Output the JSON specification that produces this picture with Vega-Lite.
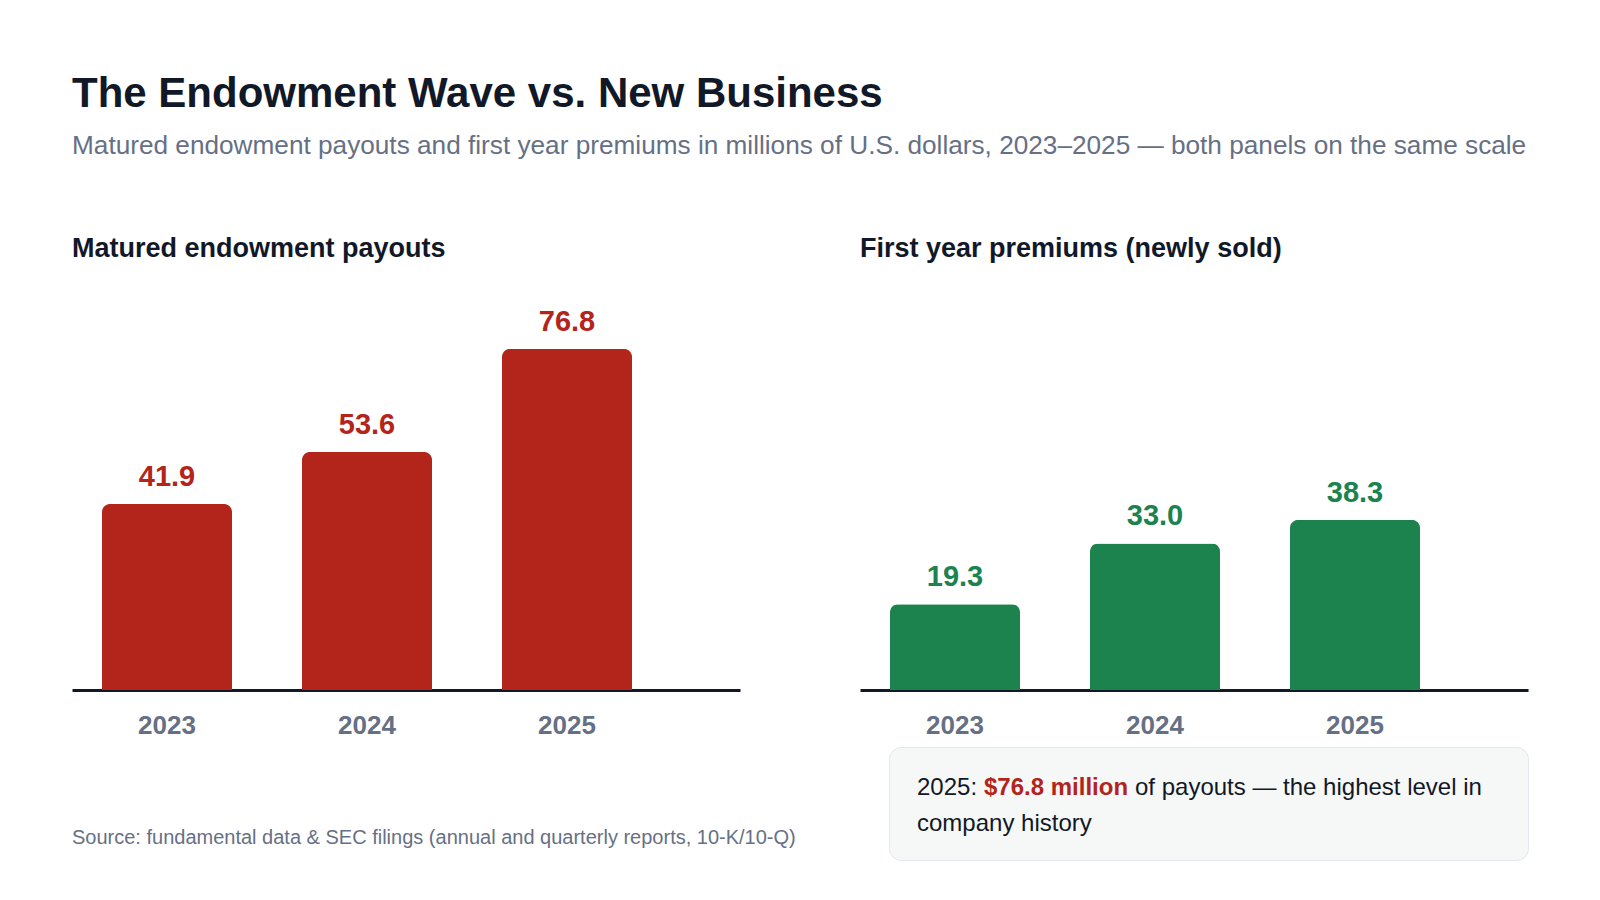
{
  "$schema": "https://vega.github.io/schema/vega-lite/v6.json",
  "padding": {"left": 72, "top": 72, "right": 0, "bottom": 0},
  "background": "white",
  "title": {
    "text": "The Endowment Wave vs. New Business",
    "subtitle": "Matured endowment payouts and first year premiums in millions of U.S. dollars, 2023–2025 — both panels on the same scale",
    "anchor": "start",
    "font": "Liberation Sans",
    "fontSize": 42,
    "fontWeight": "bold",
    "color": "#111827",
    "subtitleFont": "Liberation Sans",
    "subtitleFontSize": 26.2,
    "subtitleColor": "#667085",
    "subtitlePadding": 17,
    "offset": 75
  },
  "datasets": {
    "payouts": [
      {"year": "2023", "value": 41.9},
      {"year": "2024", "value": 53.6},
      {"year": "2025", "value": 76.8}
    ],
    "premiums": [
      {"year": "2023", "value": 19.3},
      {"year": "2024", "value": 33.0},
      {"year": "2025", "value": 38.3}
    ],
    "note": [
      {"part": "lead", "text": "2025:"},
      {"part": "highlight", "text": "$76.8 million"},
      {"part": "rest", "text": "of payouts — the highest level in"},
      {"part": "line2", "text": "company history"}
    ]
  },
  "vconcat": [
    {
      "hconcat": [
        {
          "width": 668,
          "height": 389,
          "title": {"text": "Matured endowment payouts", "anchor": "start", "fontSize": 27, "fontWeight": "bold", "color": "#111827", "offset": 38},
          "data": {"name": "payouts"},
          "encoding": {
            "x": {
              "field": "year",
              "type": "nominal",
              "scale": {"paddingInner": 0.35, "paddingOuter": 0.345, "align": 0.2174},
              "axis": {"title": null, "labelAngle": 0, "ticks": false, "domainColor": "#111827", "domainWidth": 3, "labelFontSize": 26, "labelFontWeight": "bold", "labelColor": "#667085", "labelPadding": 22}
            },
            "y": {"field": "value", "type": "quantitative", "scale": {"domain": [0, 87.6]}, "axis": null}
          },
          "layer": [
            {"mark": {"type": "bar", "color": "#b3241a", "cornerRadiusTopLeft": 8, "cornerRadiusTopRight": 8}},
            {
              "mark": {"type": "text", "baseline": "alphabetic", "dy": -18, "fontSize": 29, "fontWeight": "bold", "color": "#b3241a"},
              "encoding": {"text": {"field": "value", "type": "quantitative", "format": ".1f"}}
            }
          ]
        },
        {
          "width": 668,
          "height": 389,
          "title": {"text": "First year premiums (newly sold)", "anchor": "start", "fontSize": 27, "fontWeight": "bold", "color": "#111827", "offset": 38},
          "data": {"name": "premiums"},
          "encoding": {
            "x": {
              "field": "year",
              "type": "nominal",
              "scale": {"paddingInner": 0.35, "paddingOuter": 0.345, "align": 0.2174},
              "axis": {"title": null, "labelAngle": 0, "ticks": false, "domainColor": "#111827", "domainWidth": 3, "labelFontSize": 26, "labelFontWeight": "bold", "labelColor": "#667085", "labelPadding": 22}
            },
            "y": {"field": "value", "type": "quantitative", "scale": {"domain": [0, 87.6]}, "axis": null}
          },
          "layer": [
            {"mark": {"type": "bar", "color": "#1c824e", "cornerRadiusTopLeft": 8, "cornerRadiusTopRight": 8}},
            {
              "mark": {"type": "text", "baseline": "alphabetic", "dy": -18, "fontSize": 29, "fontWeight": "bold", "color": "#1c824e"},
              "encoding": {"text": {"field": "value", "type": "quantitative", "format": ".1f"}}
            }
          ]
        }
      ],
      "spacing": 120
    },
    {
      "hconcat": [
        {
          "width": 740,
          "height": 113,
          "data": {"values": [{"source": "Source: fundamental data & SEC filings (annual and quarterly reports, 10-K/10-Q)"}]},
          "mark": {"type": "text", "align": "left", "baseline": "alphabetic", "x": 0, "y": 97, "fontSize": 20, "color": "#667085"},
          "encoding": {"text": {"field": "source"}}
        },
        {
          "width": 639,
          "height": 113,
          "view": {"fill": "#f6f7f7", "stroke": "#e4e7eb", "strokeWidth": 1, "cornerRadius": 12},
          "data": {"name": "note"},
          "layer": [
            {
              "transform": [{"filter": "datum.part === 'lead'"}],
              "mark": {"type": "text", "align": "left", "baseline": "alphabetic", "x": 28, "y": 48, "fontSize": 24, "color": "#111827"},
              "encoding": {"text": {"field": "text"}}
            },
            {
              "transform": [{"filter": "datum.part === 'highlight'"}],
              "mark": {"type": "text", "align": "left", "baseline": "alphabetic", "x": 95, "y": 48, "fontSize": 24, "fontWeight": "bold", "color": "#b3241a"},
              "encoding": {"text": {"field": "text"}}
            },
            {
              "transform": [{"filter": "datum.part === 'rest'"}],
              "mark": {"type": "text", "align": "left", "baseline": "alphabetic", "x": 246, "y": 48, "fontSize": 24, "color": "#111827"},
              "encoding": {"text": {"field": "text"}}
            },
            {
              "transform": [{"filter": "datum.part === 'line2'"}],
              "mark": {"type": "text", "align": "left", "baseline": "alphabetic", "x": 28, "y": 84, "fontSize": 24, "color": "#111827"},
              "encoding": {"text": {"field": "text"}}
            }
          ]
        }
      ],
      "spacing": 76
    }
  ],
  "spacing": 8,
  "config": {
    "font": "Liberation Sans",
    "view": {"stroke": null}
  }
}
